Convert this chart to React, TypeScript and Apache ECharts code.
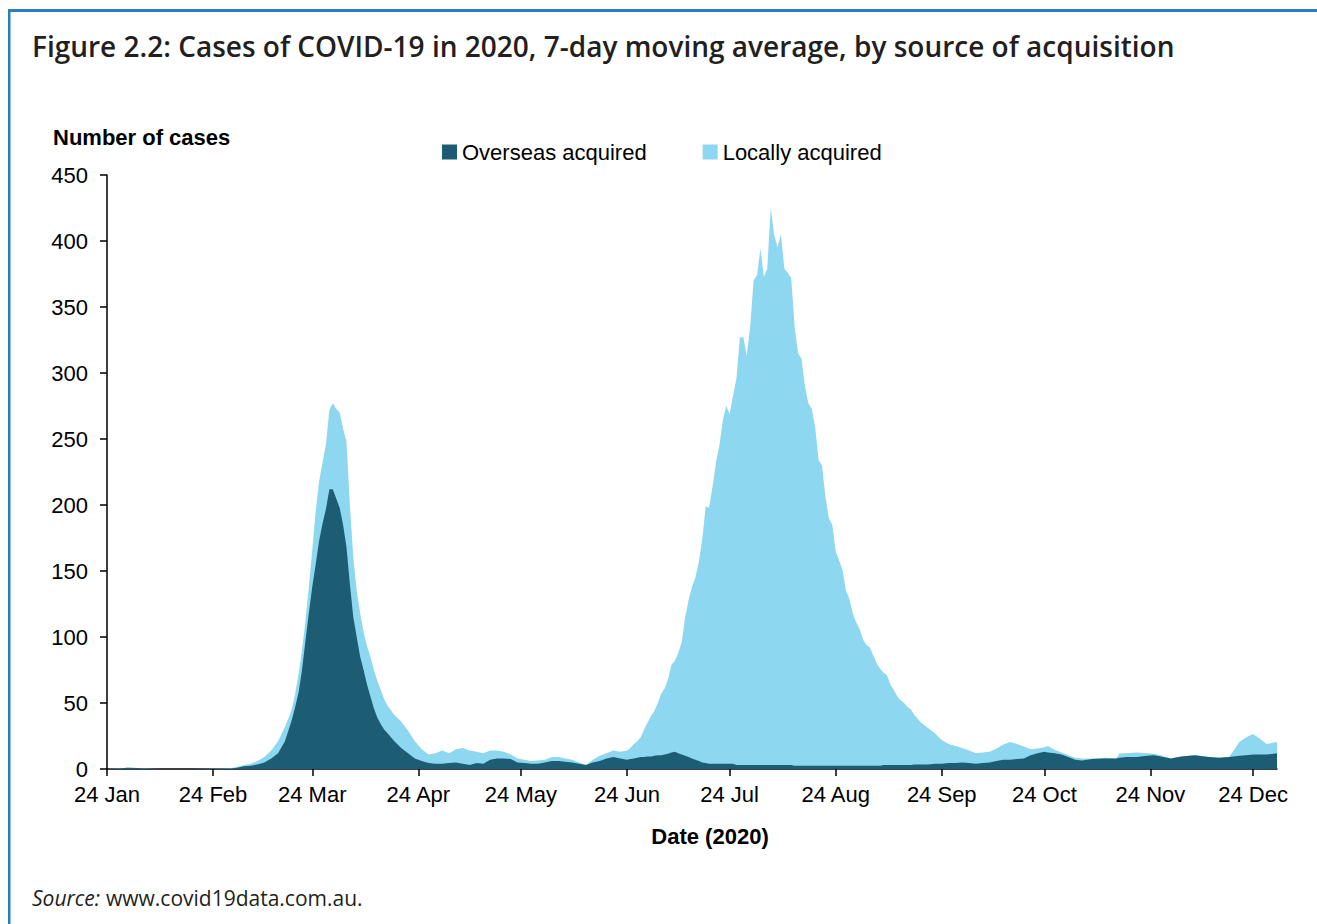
import React, { useEffect, useRef } from "react";
import * as echarts from "echarts";

// Day offsets counted from 24 Jan 2020
const days = [
  0, 3, 6, 9, 12, 16, 20, 25, 30, 33,
  36, 38, 40, 42, 44, 46, 48, 50, 52, 53,
  54, 55, 56, 57, 58, 59, 60, 61, 62, 63,
  64, 65, 66, 67, 68, 69, 70, 71, 72, 73,
  74, 75, 76, 77, 78, 79, 80, 81, 82, 84,
  86, 88, 90, 92, 94, 96, 98, 100, 102, 104,
  106, 108, 110, 112, 114, 116, 118, 120, 122, 124,
  126, 128, 130, 132, 134, 136, 138, 140, 142, 144,
  146, 148, 150, 152, 153, 154, 155, 156, 157, 158,
  159, 160, 161, 162, 163, 164, 165, 166, 167, 168,
  169, 170, 171, 172, 173, 174, 175, 176, 177, 178,
  179, 180, 181, 182, 183, 184, 185, 186, 187, 188,
  189, 190, 191, 192, 193, 194, 195, 196, 197, 198,
  199, 200, 201, 202, 203, 204, 205, 206, 207, 208,
  209, 210, 211, 212, 213, 214, 215, 216, 217, 218,
  219, 220, 221, 222, 223, 224, 225, 226, 227, 228,
  229, 230, 231, 232, 233, 234, 235, 236, 238, 240,
  242, 244, 246, 248, 250, 252, 254, 256, 258, 260,
  262, 264, 266, 268, 270, 272, 274, 275, 277, 279,
  281, 283, 285, 288, 292, 295, 296, 298, 301, 304,
  306, 308, 311, 314, 318, 322, 325, 328, 331, 333,
  335, 337, 339, 341, 342,
];

const overseas = [
  0, 0.4, 1, 0.8, 0.2, 0, 0, 0, 0.1, 0.3,
  0.4, 1, 2, 2.5, 3.5, 5, 8, 12, 21, 29,
  37, 47, 58, 75, 97, 118, 138, 155, 173, 186,
  197, 212, 212, 205, 198, 185, 168, 140, 115, 100,
  85, 75, 64, 55, 46, 39, 34, 30, 27, 21,
  16, 12, 8, 6, 4.5, 4, 4, 4.5, 5, 4,
  3, 4.5, 4, 7, 8, 8, 7.5, 5, 4.5, 4,
  4, 5, 6, 6, 5.5, 5, 4, 3, 5, 6,
  8, 9, 8, 7, 7.5, 8, 8.5, 9, 9, 9.5,
  9.5, 10, 10.5, 10.5, 11, 11.5, 12.5, 13, 12, 11,
  10, 9, 8, 7, 6, 5, 4.5, 4, 4, 4,
  4, 4, 4, 4, 4, 3, 3, 3, 3, 3,
  3, 3, 3, 3, 3, 3, 3, 3, 3, 3,
  3, 3, 2.5, 2.5, 2.5, 2.5, 2.5, 2.5, 2.5, 2.5,
  2.5, 2.5, 2.5, 2.5, 2.5, 2.5, 2.5, 2.5, 2.5, 2.5,
  2.5, 2.5, 2.5, 2.5, 2.5, 2.5, 2.5, 2.5, 3, 3,
  3, 3, 3, 3, 3, 3, 3, 3.5, 3.5, 3.5,
  4, 4, 4.5, 4.5, 5, 4.5, 4, 4.5, 5, 6,
  7, 7, 7.5, 8, 10.5, 12, 13, 12.5, 12, 11,
  9, 7, 6.5, 7.5, 8, 8, 8.5, 9, 9, 10,
  10.5, 9.5, 8, 9.5, 10.5, 9, 8.5, 9, 10, 10.5,
  11, 11, 11, 11.5, 12,
];

const local = [
  0, 0, 0, 0, 0, 0, 0, 0, 0, 0,
  0.2, 0.5, 1, 1.5, 2.5, 4, 6, 9, 11, 9,
  8, 10, 14, 15, 15, 20, 28, 40, 45, 46,
  49, 60, 65, 68, 72, 73, 80, 60, 45, 35,
  33, 29, 29, 30, 29, 28, 26, 23, 21, 20,
  20, 17, 13, 9, 6.5, 8, 10, 7.5, 10, 12,
  11, 8.5, 8, 7, 6, 5, 3.5, 3, 2.5, 2,
  2.5, 2, 3, 3, 2.5, 2, 1, 0, 2, 4,
  4, 5, 5, 7, 8.5, 11, 12.5, 15, 21, 25.5,
  30.5, 34, 39.5, 46.5, 50, 56.5, 66.5, 69, 76, 85,
  105, 119, 130, 138, 151, 169, 194.5, 194, 210, 228,
  241, 260, 271, 265, 279, 293, 324, 324, 310, 332,
  367, 371, 391, 370, 376, 422, 402, 392, 402, 376,
  373, 369, 332.5, 312.5, 308.5, 287.5, 274.5, 270.5, 256.5, 231.5,
  227.5, 203.5, 187.5, 182.5, 162.5, 155.5, 148.5, 132.5, 126.5, 115.5,
  108.5, 103.5, 95.5, 91.5, 89.5, 83.5, 77.5, 73.5, 70, 68,
  61, 57, 52, 49, 47, 44, 42, 37.5, 31.5, 27.5,
  23, 18, 14.5, 13, 11, 9.5, 8, 8, 8, 9.5,
  11.5, 13.5, 11.5, 9, 4.5, 3.5, 3.5, 5, 2.5, 1.5,
  1.5, 1.5, 1.5, 0.5, 0.5, 0, 3.5, 3, 3.5, 2,
  1, 1, 0, 0, 0, 0, 0, 0, 10.5, 13.5,
  15.5, 12, 8, 8.5, 8.5,
];

const tickDays = [0, 31, 60, 91, 121, 152, 182, 213, 244, 274, 305, 335];
const tickLabels = [
  "24 Jan", "24 Feb", "24 Mar", "24 Apr", "24 May", "24 Jun",
  "24 Jul", "24 Aug", "24 Sep", "24 Oct", "24 Nov", "24 Dec",
];

const DARK = "#1c5d74";
const LIGHT = "#8ed7f0";
const FONT = "'Liberation Sans', Arial, sans-serif";

export default function App() {
  const ref = useRef<HTMLDivElement>(null);

  useEffect(() => {
    if (!ref.current) return;
    const chart = echarts.init(ref.current, null, { renderer: "svg" });
    const overseasData = days.map((d, i) => [d, overseas[i]]);
    const totalData = days.map((d, i) => [d, +(overseas[i] + local[i]).toFixed(2)]);

    chart.setOption({
      animation: false,
      backgroundColor: "#ffffff",
      textStyle: { fontFamily: FONT },
      grid: { left: 107, right: 40, top: 175, bottom: 155, containLabel: false },
      legend: {
        left: 442,
        top: 141,
        padding: 0,
        icon: "rect",
        itemWidth: 15,
        itemHeight: 15,
        itemGap: 56,
        data: ["Overseas acquired", "Locally acquired"],
        textStyle: { fontSize: 22, color: "#000", fontFamily: FONT },
      },
      xAxis: {
        type: "value",
        min: 0,
        max: 342,
        splitLine: { show: false },
        axisLine: { show: true, lineStyle: { color: "#000", width: 1.5 } },
        axisTick: {
          show: true,
          length: 7,
          lineStyle: { color: "#000", width: 1.5 },
          customValues: tickDays,
        },
        axisLabel: {
          customValues: tickDays,
          margin: 14,
          fontSize: 22,
          color: "#000",
          fontFamily: FONT,
          formatter: (v: number) => {
            const i = tickDays.indexOf(Math.round(v));
            return i >= 0 ? tickLabels[i] : "";
          },
        },
      },
      yAxis: {
        type: "value",
        min: 0,
        max: 450,
        interval: 50,
        splitLine: { show: false },
        axisLine: { show: true, lineStyle: { color: "#000", width: 1.5 } },
        axisTick: { show: true, length: 7, lineStyle: { color: "#000", width: 1.5 } },
        axisLabel: { margin: 19, fontSize: 22, color: "#000", fontFamily: FONT },
      },
      series: [
        {
          name: "Locally acquired",
          type: "line",
          data: totalData,
          symbol: "none",
          color: LIGHT,
          itemStyle: { color: LIGHT },
          lineStyle: { width: 0, color: LIGHT },
          areaStyle: { color: LIGHT, opacity: 1 },
          z: 2,
        },
        {
          name: "Overseas acquired",
          type: "line",
          data: overseasData,
          symbol: "none",
          color: DARK,
          itemStyle: { color: DARK },
          lineStyle: { width: 0, color: DARK },
          areaStyle: { color: DARK, opacity: 1 },
          z: 3,
        },
      ],
      graphic: [
        { type: "rect", left: 8, top: 9, shape: { width: 1309, height: 3 }, style: { fill: "#2a7dbf" }, silent: true },
        { type: "rect", left: 8, top: 9, shape: { width: 2.5, height: 915 }, style: { fill: "#2a7dbf" }, silent: true },
        {
          type: "text",
          x: 32,
          y: 46,
          style: {
            text: "Figure 2.2: Cases of COVID-19 in 2020, 7-day moving average, by source of acquisition",
            fontFamily: "'Open Sans', sans-serif",
            fontWeight: 600,
            fontSize: 28,
            fill: "#231f20",
            textAlign: "left",
            textVerticalAlign: "middle",
          },
        },
        {
          type: "text",
          x: 53,
          y: 137,
          style: {
            text: "Number of cases",
            fontFamily: FONT,
            fontWeight: "bold",
            fontSize: 22,
            fill: "#000",
            textAlign: "left",
            textVerticalAlign: "middle",
          },
        },
        {
          type: "text",
          x: 710,
          y: 836,
          style: {
            text: "Date (2020)",
            fontFamily: FONT,
            fontWeight: "bold",
            fontSize: 22,
            fill: "#000",
            textAlign: "center",
            textVerticalAlign: "middle",
          },
        },
        {
          type: "text",
          x: 32,
          y: 898,
          style: {
            text: "Source:",
            fontFamily: "'Open Sans', sans-serif",
            fontStyle: "italic",
            fontSize: 21,
            fill: "#231f20",
            textAlign: "left",
            textVerticalAlign: "middle",
          },
        },
        {
          type: "text",
          x: 106,
          y: 898,
          style: {
            text: "www.covid19data.com.au.",
            fontFamily: "'Open Sans', sans-serif",
            fontSize: 21,
            fill: "#231f20",
            textAlign: "left",
            textVerticalAlign: "middle",
          },
        },
      ],
    });

    return () => chart.dispose();
  }, []);

  return (
    <div
      ref={ref}
      style={{ position: "fixed", left: 0, top: 0, width: 1317, height: 924, background: "#fff" }}
    />
  );
}
